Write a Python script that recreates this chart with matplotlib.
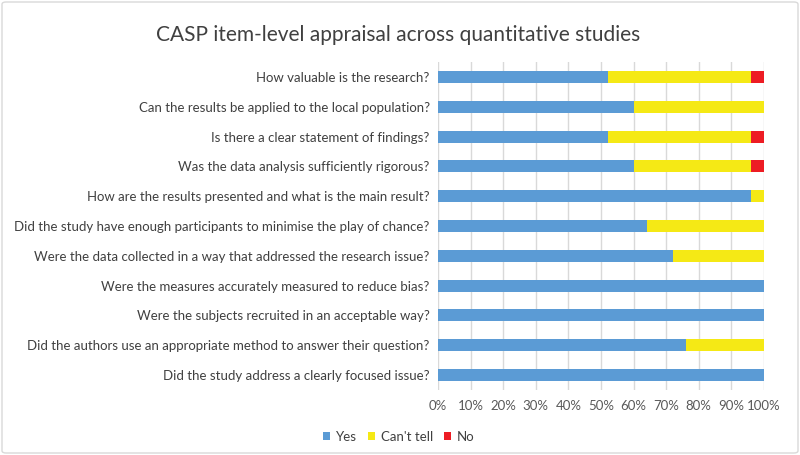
import matplotlib
matplotlib.use("Agg")
import matplotlib.pyplot as plt
from matplotlib.patches import FancyBboxPatch
import numpy as np

plt.rcParams['font.family'] = ['Lato', 'DejaVu Sans']

categories = [
    "How valuable is the research?",
    "Can the results be applied to the local population?",
    "Is there a clear statement of findings?",
    "Was the data analysis sufficiently rigorous?",
    "How are the results presented and what is the main result?",
    "Did the study have enough participants to minimise the play of chance?",
    "Were the data collected in a way that addressed the research issue?",
    "Were the measures accurately measured to reduce bias?",
    "Were the subjects recruited in an acceptable way?",
    "Did the authors use an appropriate method to answer their question?",
    "Did the study address a clearly focused issue?",
]
yes = [52, 60, 52, 60, 96, 64, 72, 100, 100, 76, 100]
cant_tell = [44, 40, 44, 36, 4, 36, 28, 0, 0, 24, 0]
no = [4, 0, 4, 4, 0, 0, 0, 0, 0, 0, 0]
series_names = ["Yes", "Can't tell", "No"]
colors = ["#5b9bd5", "#f5e915", "#ed1c24"]
xticks = list(range(0, 101, 10))

fig = plt.figure(figsize=(8, 4.55), dpi=100)
ax = fig.add_axes([438/800, 1-390/455, 326/800, 328/455])

y = np.arange(len(categories))
left = np.zeros(len(categories))
for vals, name, c in zip([yes, cant_tell, no], series_names, colors):
    ax.barh(y, vals, left=left, height=0.4, color=c, label=name, zorder=3)
    left += np.array(vals)

ax.set_ylim(len(categories) - 0.5, -0.5)
ax.set_xlim(0, 100)
ax.set_yticks(y)
ax.set_yticklabels(categories, fontsize=9.5, color="#404040")
ax.set_xticks(xticks)
ax.set_xticklabels([f"{t}%" for t in xticks], fontsize=9.5, color="#595959")
ax.tick_params(axis='both', length=0, pad=6)
ax.tick_params(axis='x', pad=7)
ax.xaxis.grid(True, color="#d9d9d9", linewidth=1, zorder=0)
for s in ax.spines.values():
    s.set_visible(False)

fig.text(398/800, 1-35/455, "CASP item-level appraisal across quantitative studies",
         ha='center', va='center', fontsize=15, color="#404040")

handles, labels = ax.get_legend_handles_labels()
leg = fig.legend(handles, labels, loc='center', bbox_to_anchor=(399/800, 1-437/455),
                 ncol=3, frameon=False, fontsize=9.5, handlelength=0.55, handleheight=0.55,
                 handletextpad=0.45, columnspacing=0.8, labelcolor="#404040")

border = FancyBboxPatch((2/800, 2/455), 796/800, 451/455, boxstyle="round,pad=0,rounding_size=0.005",
                        transform=fig.transFigure, fill=False, edgecolor="#d9d9d9", linewidth=1)
fig.patches.append(border)

fig.savefig("out.png", dpi=100)
